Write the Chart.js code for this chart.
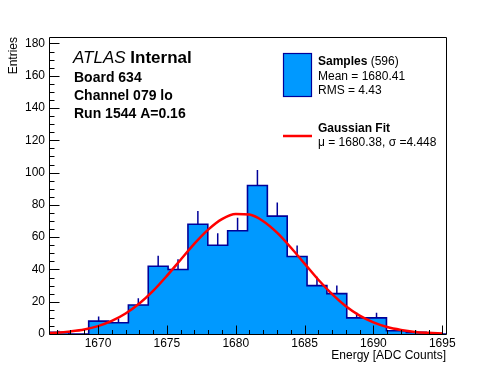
<!DOCTYPE html>
<html lang="en">
<head>
    <meta charset="UTF-8">
    <title>Board 634 Channel 079 lo</title>
    <script src="https://cdn.jsdelivr.net/npm/chart.js"></script>
    <style>
        body { margin: 0; background: #fff; }
        canvas { display: block; }
    </style>
</head>
<body>
<canvas id="grafico" width="496" height="372"></canvas>

<script>
    // histogram range and bin contents (20 bins)
    const histLow = 1666.44;
    const histHigh = 1695.27;
    const counts = [1, 0, 8, 7, 18, 42, 40, 68, 55, 64, 92, 73, 48, 30, 25, 10, 10, 2, 1, 0];
    const errors = [1, 0, 2.8, 2.6, 4.2, 6.5, 6.3, 8.2, 7.4, 8, 9.6, 8.5, 6.9, 5.5, 5, 3.2, 3.2, 1.4, 1, 0];

    // gaussian fit curve
    const fitX = [1666.5, 1667, 1668, 1669, 1670, 1671, 1672, 1673, 1674, 1675, 1676, 1677, 1678, 1679, 1680,
                  1681, 1682, 1683, 1684, 1685, 1686, 1687, 1688, 1689, 1690, 1691, 1692, 1693, 1694, 1695];
    const fitY = [0.6, 0.8, 1.6, 2.8, 4.9, 8.1, 12.7, 18.9, 26.7, 36.0, 46.0, 56.0, 64.7, 71.2, 74.4,
                  74.0, 69.9, 62.8, 53.6, 43.6, 33.6, 24.7, 17.2, 11.4, 7.2, 4.3, 2.5, 1.3, 0.7, 0.3];

    const xTicks = [1670, 1675, 1680, 1685, 1690, 1695];
    const yTicks = [0, 20, 40, 60, 80, 100, 120, 140, 160, 180];
    const yMax = 184;

    const azul = '#0099ff';
    const marino = '#000099';
    const fuente = '"Liberation Sans", Arial, sans-serif';

    const binW = (histHigh - histLow) / counts.length;

    // step outline: one point per lower edge, plus the last upper edge
    let puntosHist = counts.map((c, i) => ({ x: histLow + i * binW, y: c }));
    puntosHist.push({ x: histHigh, y: counts[counts.length - 1] });

    // upper half of the error bars (lower half is hidden by the fill in the original)
    let puntosErr = [];
    counts.forEach((c, i) => {
        if (c === 0) return;
        let xc = histLow + (i + 0.5) * binW;
        puntosErr.push({ x: xc, y: c }, { x: xc, y: c + errors[i] }, { x: xc, y: null });
    });

    let puntosFit = fitX.map((x, i) => ({ x: x, y: fitY[i] }));

    // frame + inward ticks like ROOT
    const marcoPlugin = {
        id: 'marco',
        afterDatasetsDraw(chart) {
            const ctx = chart.ctx;
            const a = chart.chartArea;
            const xs = chart.scales.x, ys = chart.scales.y;
            ctx.save();
            ctx.strokeStyle = '#000';
            ctx.lineWidth = 1;
            ctx.beginPath();
            ctx.rect(Math.round(a.left) + 0.5, Math.round(a.top) + 0.5,
                     Math.round(a.right - a.left), Math.round(a.bottom - a.top));
            ctx.stroke();

            ctx.beginPath();
            const yb = Math.round(a.bottom) + 0.5;
            for (let v = Math.ceil(xs.min); v <= xs.max; v++) {
                let px = Math.round(xs.getPixelForValue(v)) + 0.5;
                let len = (v % 5 === 0) ? 9 : 4.5;
                ctx.moveTo(px, yb);
                ctx.lineTo(px, yb - len);
            }
            const xl = Math.round(a.left) + 0.5;
            for (let v = 0; v <= ys.max; v += 5) {
                let py = Math.round(ys.getPixelForValue(v)) + 0.5;
                let len = (v % 20 === 0) ? 10 : 5;
                ctx.moveTo(xl, py);
                ctx.lineTo(xl + len, py);
            }
            ctx.stroke();
            ctx.restore();
        }
    };

    // titles, labels and the legend box
    const textosPlugin = {
        id: 'textos',
        afterDraw(chart) {
            const ctx = chart.ctx;
            ctx.save();
            ctx.fillStyle = '#000';
            ctx.textBaseline = 'alphabetic';

            // axis titles
            ctx.font = '12px ' + fuente;
            ctx.textAlign = 'right';
            ctx.fillText('Energy [ADC Counts]', 446, 359);
            ctx.save();
            ctx.translate(17, 37);
            ctx.rotate(-Math.PI / 2);
            ctx.fillText('Entries', 0, 0);
            ctx.restore();

            // ATLAS label
            ctx.textAlign = 'left';
            ctx.font = 'italic 17px ' + fuente;
            ctx.fillText('ATLAS', 73, 63);
            let w = ctx.measureText('ATLAS ').width;
            ctx.font = 'bold 17px ' + fuente;
            ctx.fillText('Internal', 73 + w, 63);

            ctx.font = 'bold 14px ' + fuente;
            ctx.fillText('Board 634', 74, 82);
            ctx.fillText('Channel 079 lo', 74, 100);
            ctx.fillText('Run 1544 A=0.16', 74, 118);

            // legend
            ctx.fillStyle = azul;
            ctx.fillRect(283.5, 53.5, 28, 43);
            ctx.strokeStyle = marino;
            ctx.lineWidth = 1.2;
            ctx.strokeRect(283.5, 53.5, 28, 43);

            ctx.fillStyle = '#000';
            ctx.font = 'bold 12px ' + fuente;
            ctx.fillText('Samples', 318, 65);
            w = ctx.measureText('Samples').width;
            ctx.font = '12px ' + fuente;
            ctx.fillText(' (596)', 318 + w, 65);
            ctx.fillText('Mean = 1680.41', 318, 80);
            ctx.fillText('RMS = 4.43', 318, 94);

            ctx.strokeStyle = '#ff0000';
            ctx.lineWidth = 2.5;
            ctx.beginPath();
            ctx.moveTo(283, 136);
            ctx.lineTo(312, 136);
            ctx.stroke();

            ctx.font = 'bold 12px ' + fuente;
            ctx.fillText('Gaussian Fit', 318, 132);
            ctx.font = '12px ' + fuente;
            ctx.fillText('\u03bc = 1680.38, \u03c3 =4.448', 318, 146);
            ctx.restore();
        }
    };

    const ctx = document.getElementById('grafico').getContext('2d');
    let miGrafico = new Chart(ctx, {
        type: 'line',
        data: {
            datasets: [
                {
                    label: 'Gaussian Fit',
                    data: puntosFit,
                    borderColor: '#ff0000',
                    borderWidth: 2.5,
                    pointRadius: 0,
                    cubicInterpolationMode: 'monotone',
                    fill: false,
                    order: 0
                },
                {
                    label: 'Errores',
                    data: puntosErr,
                    borderColor: marino,
                    borderWidth: 1.5,
                    pointRadius: 0,
                    spanGaps: false,
                    fill: false,
                    order: 1
                },
                {
                    label: 'Samples',
                    data: puntosHist,
                    borderColor: marino,
                    backgroundColor: azul,
                    borderWidth: 1.6,
                    pointRadius: 0,
                    stepped: 'before',
                    fill: 'origin',
                    order: 2
                }
            ]
        },
        options: {
            responsive: false,
            animation: false,
            devicePixelRatio: 1,
            layout: { padding: { left: 0, right: 50, top: 37, bottom: 0 } },
            plugins: {
                legend: { display: false },
                tooltip: { enabled: false }
            },
            scales: {
                x: {
                    type: 'linear',
                    min: histLow,
                    max: histHigh,
                    grid: { display: false, drawTicks: false },
                    border: { display: false },
                    ticks: {
                        includeBounds: false,
                        autoSkip: false,
                        maxRotation: 0,
                        padding: 2,
                        color: '#000',
                        font: { family: fuente, size: 12 },
                        callback: (v) => String(v)
                    },
                    afterBuildTicks: (s) => { s.ticks = xTicks.map(v => ({ value: v })); },
                    afterFit: (s) => { s.height = 38; }
                },
                y: {
                    min: 0,
                    max: yMax,
                    grid: { display: false, drawTicks: false },
                    border: { display: false },
                    ticks: {
                        padding: 4,
                        color: '#000',
                        font: { family: fuente, size: 12 },
                        callback: (v) => String(v)
                    },
                    afterBuildTicks: (s) => { s.ticks = yTicks.map(v => ({ value: v })); },
                    afterFit: (s) => { s.width = 49; }
                }
            }
        },
        plugins: [marcoPlugin, textosPlugin]
    });
</script>
</body>
</html>
